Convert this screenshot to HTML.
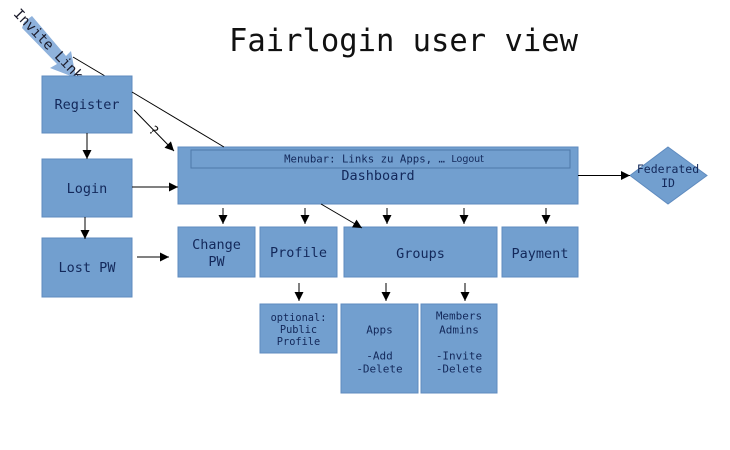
<!DOCTYPE html>
<html><head><meta charset="utf-8"><style>
html,body{margin:0;padding:0;background:#fff;}
svg{display:block;}
.b{fill:#729fcf;stroke:#5f8bbf;stroke-width:1;}
.t{font-family:"DejaVu Sans Mono","Liberation Mono",monospace;fill:#13285a;text-anchor:middle;dominant-baseline:central;}
.l{stroke:#000;stroke-width:1;fill:none;}
</style></head><body>
<svg width="730" height="450" viewBox="0 0 730 450" xmlns="http://www.w3.org/2000/svg">
<defs>
<marker id="a" viewBox="0 0 10 10" refX="10" refY="5" markerWidth="10" markerHeight="9" markerUnits="userSpaceOnUse" orient="auto">
<path d="M0,0 L10,5 L0,10 z" fill="#000"/>
</marker>
</defs>
<rect width="730" height="450" fill="#fff"/>
<text x="403.5" y="51" font-family="DejaVu Sans Mono, Liberation Mono, monospace" font-size="31" fill="#111" text-anchor="middle" textLength="349" lengthAdjust="spacingAndGlyphs">Fairlogin user view</text>

<!-- invite link arrow -->
<polygon points="24,22 32,16 66,56 71,51 76,78 50,68 57,64 22,28" fill="#8fb2dc"/>
<text x="48" y="45" class="t" font-size="14" style="fill:#1a1a2a" transform="rotate(46 48 45)">Invite Link</text>
<line x1="73" y1="57" x2="105" y2="76" class="l" stroke-width="0.8"/>

<!-- left boxes -->
<rect x="42" y="76" width="90" height="57" class="b"/>
<text x="87" y="105" class="t" font-size="13.5">Register</text>
<rect x="42" y="159" width="90" height="58" class="b"/>
<text x="87" y="189" class="t" font-size="13.5">Login</text>
<rect x="42" y="238" width="90" height="59" class="b"/>
<text x="87" y="268" class="t" font-size="13.5">Lost PW</text>

<!-- dashboard -->
<rect x="178" y="147" width="400" height="57" class="b"/>
<rect x="191" y="150" width="379" height="18" fill="none" stroke="#4f78aa" stroke-width="1"/>
<text x="384" y="159" class="t" font-size="10.7">Menubar: Links zu Apps, … <tspan font-family="DejaVu Sans, Liberation Sans, sans-serif" font-size="9.5">Logout</tspan></text>
<text x="378" y="176" class="t" font-size="13.5">Dashboard</text>

<!-- federated -->
<polygon points="668,147 707,175.5 668,204 630,175.5" fill="#729fcf" stroke="#5f8bbf"/>
<text x="668" y="169" class="t" font-size="11.5">Federated</text>
<text x="668" y="183" class="t" font-size="11.5">ID</text>

<!-- row 2 -->
<rect x="178" y="227" width="77" height="50" class="b"/>
<text x="216.5" y="245" class="t" font-size="13.5">Change</text>
<text x="216.5" y="262" class="t" font-size="13.5">PW</text>
<rect x="260" y="227" width="77" height="50" class="b"/>
<text x="298.5" y="253" class="t" font-size="13.5">Profile</text>
<rect x="344" y="227" width="153" height="50" class="b"/>
<text x="420.5" y="254" class="t" font-size="13.5">Groups</text>
<rect x="502" y="227" width="76" height="50" class="b"/>
<text x="540" y="254" class="t" font-size="13.5">Payment</text>

<!-- row 3 -->
<rect x="260" y="304" width="77" height="49" class="b"/>
<text x="298.5" y="318" class="t" font-size="10.3">optional:</text>
<text x="298.5" y="330" class="t" font-size="10.3">Public</text>
<text x="298.5" y="342" class="t" font-size="10.3">Profile</text>
<rect x="341" y="304" width="77" height="89" class="b"/>
<text x="379.5" y="330" class="t" font-size="11">Apps</text>
<text x="379.5" y="356" class="t" font-size="11">-Add</text>
<text x="379.5" y="369" class="t" font-size="11">-Delete</text>
<rect x="421" y="304" width="76" height="89" class="b"/>
<text x="459" y="316" class="t" font-size="11">Members</text>
<text x="459" y="330" class="t" font-size="11">Admins</text>
<text x="459" y="356" class="t" font-size="11">-Invite</text>
<text x="459" y="369" class="t" font-size="11">-Delete</text>

<!-- connectors -->
<line x1="87" y1="133" x2="87" y2="159" class="l" marker-end="url(#a)"/>
<line x1="85" y1="217" x2="85" y2="239" class="l" marker-end="url(#a)"/>
<line x1="132" y1="187" x2="178" y2="187" class="l" marker-end="url(#a)"/>
<line x1="137" y1="257" x2="169" y2="257" class="l" marker-end="url(#a)"/>
<line x1="134" y1="110" x2="174" y2="151" class="l" marker-end="url(#a)"/>
<text x="153" y="131" font-family="DejaVu Sans Mono, monospace" font-size="13" fill="#111" text-anchor="middle" dominant-baseline="central" transform="rotate(45 153 131)">?</text>
<line x1="132" y1="92" x2="224" y2="147" class="l" stroke-width="0.8"/>

<line x1="223" y1="208" x2="223" y2="224" class="l" marker-end="url(#a)"/>
<line x1="305" y1="208" x2="305" y2="224" class="l" marker-end="url(#a)"/>
<line x1="387" y1="208" x2="387" y2="224" class="l" marker-end="url(#a)"/>
<line x1="464" y1="208" x2="464" y2="224" class="l" marker-end="url(#a)"/>
<line x1="546" y1="208" x2="546" y2="224" class="l" marker-end="url(#a)"/>
<line x1="321" y1="204" x2="362" y2="228" class="l" marker-end="url(#a)"/>
<line x1="578" y1="175.5" x2="630" y2="175.5" class="l" marker-end="url(#a)"/>

<line x1="299" y1="283" x2="299" y2="301" class="l" marker-end="url(#a)"/>
<line x1="386" y1="283" x2="386" y2="301" class="l" marker-end="url(#a)"/>
<line x1="465" y1="283" x2="465" y2="301" class="l" marker-end="url(#a)"/>
</svg>
</body></html>
